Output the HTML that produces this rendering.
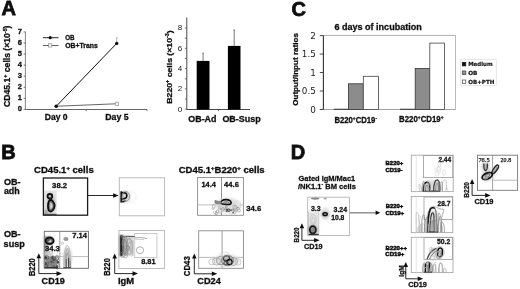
<!DOCTYPE html>
<html><head><meta charset="utf-8"><title>Figure</title>
<style>
html,body{margin:0;padding:0;background:#fff;}
body{width:520px;height:289px;overflow:hidden;}
svg{display:block;}
</style></head><body>
<svg width="520" height="289" viewBox="0 0 520 289">
<defs>
<filter id="b1" x="-20%" y="-20%" width="140%" height="140%"><feGaussianBlur stdDeviation="0.35"/></filter>
<filter id="b2" x="-30%" y="-30%" width="160%" height="160%"><feGaussianBlur stdDeviation="0.8"/></filter>
<filter id="b3" x="-40%" y="-40%" width="180%" height="180%"><feGaussianBlur stdDeviation="1.6"/></filter>
<filter id="g0" x="0" y="0" width="100%" height="100%" filterUnits="userSpaceOnUse"><feGaussianBlur stdDeviation="0.3"/></filter>
</defs>
<rect x="0" y="0" width="520" height="289" fill="#fff"/>
<g filter="url(#g0)">
<rect x="0" y="0" width="520" height="289" fill="#fff"/>
<text x="1.4" y="14.9" font-size="20" font-weight="bold" font-family='"Liberation Sans", Arial, sans-serif' text-anchor="start" fill="#111" stroke="#111" stroke-width="0.8">A</text>
<text x="291.5" y="16.3" font-size="20" font-weight="bold" font-family='"Liberation Sans", Arial, sans-serif' text-anchor="start" fill="#111" stroke="#111" stroke-width="0.8">C</text>
<text x="1.3" y="158.7" font-size="20" font-weight="bold" font-family='"Liberation Sans", Arial, sans-serif' text-anchor="start" fill="#111" stroke="#111" stroke-width="0.8">B</text>
<text x="290.8" y="158.8" font-size="20" font-weight="bold" font-family='"Liberation Sans", Arial, sans-serif' text-anchor="start" fill="#111" stroke="#111" stroke-width="0.8">D</text>
<line x1="25.4" y1="31.8" x2="25.4" y2="109.5" stroke="#666" stroke-width="0.8"/>
<line x1="25.4" y1="109.5" x2="147" y2="109.5" stroke="#555" stroke-width="0.9"/>
<line x1="23.6" y1="109.4" x2="25.4" y2="109.4" stroke="#444" stroke-width="0.7"/>
<text x="21.8" y="111.2" font-size="7.5" font-weight="bold" font-family='"Liberation Sans", Arial, sans-serif' text-anchor="end" fill="#111" stroke="#111" stroke-width="0.3">0</text>
<line x1="23.6" y1="98.33" x2="25.4" y2="98.33" stroke="#444" stroke-width="0.7"/>
<text x="21.8" y="100.13" font-size="7.5" font-weight="bold" font-family='"Liberation Sans", Arial, sans-serif' text-anchor="end" fill="#111" stroke="#111" stroke-width="0.3">1</text>
<line x1="23.6" y1="87.26" x2="25.4" y2="87.26" stroke="#444" stroke-width="0.7"/>
<text x="21.8" y="89.06" font-size="7.5" font-weight="bold" font-family='"Liberation Sans", Arial, sans-serif' text-anchor="end" fill="#111" stroke="#111" stroke-width="0.3">2</text>
<line x1="23.6" y1="76.19" x2="25.4" y2="76.19" stroke="#444" stroke-width="0.7"/>
<text x="21.8" y="77.99" font-size="7.5" font-weight="bold" font-family='"Liberation Sans", Arial, sans-serif' text-anchor="end" fill="#111" stroke="#111" stroke-width="0.3">3</text>
<line x1="23.6" y1="65.12" x2="25.4" y2="65.12" stroke="#444" stroke-width="0.7"/>
<text x="21.8" y="66.92" font-size="7.5" font-weight="bold" font-family='"Liberation Sans", Arial, sans-serif' text-anchor="end" fill="#111" stroke="#111" stroke-width="0.3">4</text>
<line x1="23.6" y1="54.05" x2="25.4" y2="54.05" stroke="#444" stroke-width="0.7"/>
<text x="21.8" y="55.85" font-size="7.5" font-weight="bold" font-family='"Liberation Sans", Arial, sans-serif' text-anchor="end" fill="#111" stroke="#111" stroke-width="0.3">5</text>
<line x1="23.6" y1="42.98" x2="25.4" y2="42.98" stroke="#444" stroke-width="0.7"/>
<text x="21.8" y="44.78" font-size="7.5" font-weight="bold" font-family='"Liberation Sans", Arial, sans-serif' text-anchor="end" fill="#111" stroke="#111" stroke-width="0.3">6</text>
<line x1="23.6" y1="31.91" x2="25.4" y2="31.91" stroke="#444" stroke-width="0.7"/>
<text x="21.8" y="33.71" font-size="7.5" font-weight="bold" font-family='"Liberation Sans", Arial, sans-serif' text-anchor="end" fill="#111" stroke="#111" stroke-width="0.3">7</text>
<line x1="86.2" y1="109.5" x2="86.2" y2="111.1" stroke="#444" stroke-width="0.7"/>
<line x1="147" y1="109.5" x2="147" y2="111.1" stroke="#444" stroke-width="0.7"/>
<line x1="56.2" y1="106.3" x2="116.7" y2="43.4" stroke="#111" stroke-width="1.0"/>
<line x1="56.2" y1="106.3" x2="117" y2="103.8" stroke="#666" stroke-width="1.1"/>
<line x1="116.7" y1="43.4" x2="116.7" y2="37.8" stroke="#999" stroke-width="0.7"/>
<line x1="115.7" y1="37.8" x2="117.7" y2="37.8" stroke="#999" stroke-width="0.6"/>
<circle cx="56.2" cy="106.2" r="1.8" fill="#111"/>
<circle cx="116.7" cy="43.4" r="1.7" fill="#111"/>
<rect x="115.4" y="102.2" width="3.2" height="3.2" stroke="#999" stroke-width="0.8" fill="#fff"/>
<line x1="42.9" y1="37.7" x2="58.5" y2="37.7" stroke="#111" stroke-width="0.9"/>
<circle cx="50.2" cy="37.7" r="1.6" fill="#111"/>
<line x1="42.9" y1="45.5" x2="58.5" y2="45.5" stroke="#555" stroke-width="0.9"/>
<rect x="48.6" y="43.8" width="3.2" height="3.2" stroke="#888" stroke-width="0.7" fill="#fff"/>
<text x="65.2" y="39.7" font-size="6.6" font-weight="bold" font-family='"Liberation Sans", Arial, sans-serif' text-anchor="start" fill="#111" textLength="9.4" lengthAdjust="spacingAndGlyphs" stroke="#111" stroke-width="0.3">OB</text>
<text x="65.3" y="47.8" font-size="6.6" font-weight="bold" font-family='"Liberation Sans", Arial, sans-serif' text-anchor="start" fill="#111" textLength="32.4" lengthAdjust="spacingAndGlyphs" stroke="#111" stroke-width="0.3">OB+Trans</text>
<text x="44.8" y="119.8" font-size="9" font-weight="bold" font-family='"Liberation Sans", Arial, sans-serif' text-anchor="start" fill="#111" textLength="22.8" lengthAdjust="spacingAndGlyphs" stroke="#111" stroke-width="0.3">Day 0</text>
<text x="105.2" y="119.8" font-size="9" font-weight="bold" font-family='"Liberation Sans", Arial, sans-serif' text-anchor="start" fill="#111" textLength="23.4" lengthAdjust="spacingAndGlyphs" stroke="#111" stroke-width="0.3">Day 5</text>
<text transform="translate(10.3,106.9) rotate(-90)" font-size="8.5" font-weight="bold" font-family='"Liberation Sans", Arial, sans-serif' fill="#111" textLength="81.4" lengthAdjust="spacingAndGlyphs" stroke="#111" stroke-width="0.3">CD45.1<tspan font-size="62%" dy="-2.89">+</tspan><tspan dy="2.89"> cells (×10</tspan><tspan font-size="62%" dy="-2.89">-5</tspan><tspan dy="2.89">)</tspan></text>
<line x1="186.8" y1="17.5" x2="186.8" y2="109.5" stroke="#333" stroke-width="0.9"/>
<line x1="186.8" y1="109.5" x2="250" y2="109.5" stroke="#333" stroke-width="0.9"/>
<line x1="184.8" y1="109.2" x2="186.8" y2="109.2" stroke="#444" stroke-width="0.7"/>
<text x="182.3" y="111.5" font-size="8.0" font-weight="normal" font-family='"Liberation Sans", Arial, sans-serif' text-anchor="end" fill="#111">0</text>
<line x1="184.8" y1="99.05" x2="186.8" y2="99.05" stroke="#444" stroke-width="0.7"/>
<line x1="184.8" y1="88.9" x2="186.8" y2="88.9" stroke="#444" stroke-width="0.7"/>
<text x="182.3" y="91.2" font-size="8.0" font-weight="normal" font-family='"Liberation Sans", Arial, sans-serif' text-anchor="end" fill="#111">2</text>
<line x1="184.8" y1="78.75" x2="186.8" y2="78.75" stroke="#444" stroke-width="0.7"/>
<line x1="184.8" y1="68.6" x2="186.8" y2="68.6" stroke="#444" stroke-width="0.7"/>
<text x="182.3" y="70.9" font-size="8.0" font-weight="normal" font-family='"Liberation Sans", Arial, sans-serif' text-anchor="end" fill="#111">4</text>
<line x1="184.8" y1="58.45" x2="186.8" y2="58.45" stroke="#444" stroke-width="0.7"/>
<line x1="184.8" y1="48.3" x2="186.8" y2="48.3" stroke="#444" stroke-width="0.7"/>
<text x="182.3" y="50.6" font-size="8.0" font-weight="normal" font-family='"Liberation Sans", Arial, sans-serif' text-anchor="end" fill="#111">6</text>
<line x1="184.8" y1="38.15" x2="186.8" y2="38.15" stroke="#444" stroke-width="0.7"/>
<line x1="184.8" y1="28.0" x2="186.8" y2="28.0" stroke="#444" stroke-width="0.7"/>
<text x="182.3" y="30.3" font-size="8.0" font-weight="normal" font-family='"Liberation Sans", Arial, sans-serif' text-anchor="end" fill="#111">8</text>
<line x1="218.4" y1="109.5" x2="218.4" y2="111.1" stroke="#444" stroke-width="0.7"/>
<line x1="203.1" y1="60.9" x2="203.1" y2="53.2" stroke="#777" stroke-width="1.0"/>
<line x1="202.3" y1="53.2" x2="203.9" y2="53.2" stroke="#666" stroke-width="0.8"/>
<line x1="234.2" y1="45.9" x2="234.2" y2="30.0" stroke="#777" stroke-width="1.0"/>
<line x1="233.4" y1="30.0" x2="235.0" y2="30.0" stroke="#666" stroke-width="0.8"/>
<rect x="196.7" y="60.9" width="12.8" height="48.6" stroke="none" stroke-width="0" fill="#000"/>
<rect x="227.9" y="45.9" width="12.6" height="63.6" stroke="none" stroke-width="0" fill="#000"/>
<text x="188.3" y="121.6" font-size="9" font-weight="bold" font-family='"Liberation Sans", Arial, sans-serif' text-anchor="start" fill="#111" textLength="28.2" lengthAdjust="spacingAndGlyphs" stroke="#111" stroke-width="0.3">OB-Ad</text>
<text x="222.4" y="121.6" font-size="9" font-weight="bold" font-family='"Liberation Sans", Arial, sans-serif' text-anchor="start" fill="#111" textLength="38.4" lengthAdjust="spacingAndGlyphs" stroke="#111" stroke-width="0.3">OB-Susp</text>
<text transform="translate(171.6,103.7) rotate(-90)" font-size="8" font-weight="bold" font-family='"Liberation Sans", Arial, sans-serif' fill="#111" textLength="73.4" lengthAdjust="spacingAndGlyphs" stroke="#111" stroke-width="0.3">B220<tspan font-size="62%" dy="-2.72">+</tspan><tspan dy="2.72"> cells  (×10</tspan><tspan font-size="62%" dy="-2.72">-3</tspan><tspan dy="2.72">)</tspan></text>
<line x1="323.4" y1="35.4" x2="455.5" y2="35.4" stroke="#999" stroke-width="0.8"/>
<line x1="455.5" y1="35.4" x2="455.5" y2="109.5" stroke="#aaa" stroke-width="0.8"/>
<line x1="319.8" y1="109.5" x2="455.5" y2="109.5" stroke="#999" stroke-width="0.9"/>
<line x1="323.4" y1="35.4" x2="323.4" y2="109.5" stroke="#333" stroke-width="1.1"/>
<line x1="319.8" y1="109.5" x2="323.4" y2="109.5" stroke="#333" stroke-width="0.9"/>
<text x="315.8" y="112.6" font-size="8.8" font-weight="normal" font-family='"DejaVu Sans", Verdana, sans-serif' text-anchor="end" fill="#222">0</text>
<line x1="319.8" y1="91.02" x2="323.4" y2="91.02" stroke="#333" stroke-width="0.9"/>
<text x="315.8" y="94.12" font-size="8.8" font-weight="normal" font-family='"DejaVu Sans", Verdana, sans-serif' text-anchor="end" fill="#222">0.5</text>
<line x1="319.8" y1="72.54" x2="323.4" y2="72.54" stroke="#333" stroke-width="0.9"/>
<text x="315.8" y="75.64" font-size="8.8" font-weight="normal" font-family='"DejaVu Sans", Verdana, sans-serif' text-anchor="end" fill="#222">1</text>
<line x1="319.8" y1="54.06" x2="323.4" y2="54.06" stroke="#333" stroke-width="0.9"/>
<text x="315.8" y="57.16" font-size="8.8" font-weight="normal" font-family='"DejaVu Sans", Verdana, sans-serif' text-anchor="end" fill="#222">1.5</text>
<line x1="319.8" y1="35.58" x2="323.4" y2="35.58" stroke="#333" stroke-width="0.9"/>
<text x="315.8" y="38.68" font-size="8.8" font-weight="normal" font-family='"DejaVu Sans", Verdana, sans-serif' text-anchor="end" fill="#222">2</text>
<text x="334.4" y="29.7" font-size="9" font-weight="bold" font-family='"Liberation Sans", Arial, sans-serif' text-anchor="start" fill="#111" textLength="87.4" lengthAdjust="spacingAndGlyphs" stroke="#111" stroke-width="0.3">6 days of incubation</text>
<rect x="333.8" y="108.8" width="14.6" height="0.8" stroke="none" stroke-width="0" fill="#111"/>
<rect x="348.4" y="83.8" width="14.9" height="25.7" stroke="#333" stroke-width="0.8" fill="#8c8c8c"/>
<rect x="363.3" y="76.3" width="15.2" height="33.2" stroke="#444" stroke-width="0.8" fill="#fff"/>
<rect x="400.0" y="108.8" width="15.2" height="0.8" stroke="none" stroke-width="0" fill="#111"/>
<rect x="415.2" y="68.5" width="14.6" height="41.0" stroke="#333" stroke-width="0.8" fill="#8c8c8c"/>
<rect x="429.8" y="43.1" width="14.6" height="66.4" stroke="#444" stroke-width="0.8" fill="#fff"/>
<text x="334.4" y="122.5" font-size="8.8" font-weight="bold" font-family='"Liberation Sans", Arial, sans-serif' text-anchor="start" fill="#111" textLength="42.6" lengthAdjust="spacingAndGlyphs" stroke="#111" stroke-width="0.3">B220<tspan font-size="62%" dy="-2.99">+</tspan><tspan dy="2.99">CD19</tspan><tspan font-size="62%" dy="-2.99">-</tspan></text>
<text x="399.1" y="122.2" font-size="8.8" font-weight="bold" font-family='"Liberation Sans", Arial, sans-serif' text-anchor="start" fill="#111" textLength="44.4" lengthAdjust="spacingAndGlyphs" stroke="#111" stroke-width="0.3">B220<tspan font-size="62%" dy="-2.99">+</tspan><tspan dy="2.99">CD19</tspan><tspan font-size="62%" dy="-2.99">+</tspan></text>
<text transform="translate(297.6,105.8) rotate(-90)" font-size="8" font-weight="bold" font-family='"Liberation Sans", Arial, sans-serif' fill="#111" textLength="72.7" lengthAdjust="spacingAndGlyphs" stroke="#111" stroke-width="0.3">Output/input ratios</text>
<rect x="460.5" y="59.4" width="35.7" height="25.9" stroke="#d8d8d8" stroke-width="0.6" fill="#fff"/>
<rect x="462.3" y="62.4" width="3.5" height="3.5" stroke="#111" stroke-width="0.7" fill="#111"/>
<rect x="462.3" y="71.0" width="3.5" height="3.5" stroke="#333" stroke-width="0.7" fill="#aaa"/>
<line x1="463.2" y1="71.0" x2="463.2" y2="74.5" stroke="#666" stroke-width="0.4"/>
<line x1="464.9" y1="71.0" x2="464.9" y2="74.5" stroke="#666" stroke-width="0.4"/>
<rect x="462.3" y="80.0" width="3.5" height="3.5" stroke="#444" stroke-width="0.7" fill="#fff"/>
<text x="468.2" y="66.1" font-size="5.6" font-weight="bold" font-family='"DejaVu Sans", Verdana, sans-serif' text-anchor="start" fill="#111" textLength="24.4" lengthAdjust="spacingAndGlyphs" stroke="#111" stroke-width="0.2">Medium</text>
<text x="468.2" y="74.7" font-size="5.6" font-weight="bold" font-family='"DejaVu Sans", Verdana, sans-serif' text-anchor="start" fill="#111" textLength="9.3" lengthAdjust="spacingAndGlyphs" stroke="#111" stroke-width="0.2">OB</text>
<text x="468.2" y="83.8" font-size="5.6" font-weight="bold" font-family='"DejaVu Sans", Verdana, sans-serif' text-anchor="start" fill="#111" textLength="26.2" lengthAdjust="spacingAndGlyphs" stroke="#111" stroke-width="0.2">OB+PTH</text>
<text x="34.1" y="173.1" font-size="8.5" font-weight="bold" font-family='"Liberation Sans", Arial, sans-serif' text-anchor="start" fill="#111" textLength="59.6" lengthAdjust="spacingAndGlyphs" stroke="#111" stroke-width="0.3">CD45.1<tspan font-size="62%" dy="-2.89">+</tspan><tspan dy="2.89"> cells</tspan></text>
<text x="178.7" y="173.0" font-size="8.5" font-weight="bold" font-family='"Liberation Sans", Arial, sans-serif' text-anchor="start" fill="#111" textLength="86.0" lengthAdjust="spacingAndGlyphs" stroke="#111" stroke-width="0.3">CD45.1<tspan font-size="62%" dy="-2.89">+</tspan><tspan dy="2.89">B220</tspan><tspan font-size="62%" dy="-2.89">+</tspan><tspan dy="2.89"> cells</tspan></text>
<text x="3.9" y="184.5" font-size="8.5" font-weight="bold" font-family='"Liberation Sans", Arial, sans-serif' text-anchor="start" fill="#111" textLength="16.6" lengthAdjust="spacingAndGlyphs" stroke="#111" stroke-width="0.3">OB-</text>
<text x="3.9" y="193.9" font-size="8.5" font-weight="bold" font-family='"Liberation Sans", Arial, sans-serif' text-anchor="start" fill="#111" textLength="15.8" lengthAdjust="spacingAndGlyphs" stroke="#111" stroke-width="0.3">adh</text>
<text x="3.9" y="236.9" font-size="8.5" font-weight="bold" font-family='"Liberation Sans", Arial, sans-serif' text-anchor="start" fill="#111" textLength="16.6" lengthAdjust="spacingAndGlyphs" stroke="#111" stroke-width="0.3">OB-</text>
<text x="3.6" y="246.7" font-size="8.5" font-weight="bold" font-family='"Liberation Sans", Arial, sans-serif' text-anchor="start" fill="#111" textLength="21.2" lengthAdjust="spacingAndGlyphs" stroke="#111" stroke-width="0.3">susp</text>
<rect x="44.0" y="190.4" width="12.6" height="24.6" stroke="none" stroke-width="0" fill="#e6e6e6"/>
<g filter="url(#b2)">
<ellipse cx="51" cy="204" rx="4.8" ry="9.5" stroke="none" stroke-width="0" fill="#c8c8c8"/>
<ellipse cx="50" cy="196.3" rx="3.4" ry="3.2" stroke="none" stroke-width="0" fill="#bbb"/>
<ellipse cx="46" cy="212" rx="2" ry="2.5" stroke="none" stroke-width="0" fill="#999"/>
</g>
<rect x="43.4" y="178.0" width="44.2" height="37.2" stroke="#1a1a1a" stroke-width="1.3" fill="none"/>
<text x="52.1" y="187.7" font-size="7.6" font-weight="bold" font-family='"Liberation Sans", Arial, sans-serif' text-anchor="start" fill="#111" textLength="15.0" lengthAdjust="spacingAndGlyphs" stroke="#111" stroke-width="0.3">38.2</text>
<g filter="url(#b1)">
<ellipse cx="49.9" cy="196.2" rx="2.3" ry="2.2" stroke="#111" stroke-width="1.8" fill="none"/>
<path d="M50.2,199.4 C48.2,201.2 47.8,205.5 48.2,208.8 C48.7,211.8 51,212.4 52.7,210.3 C54.8,207.6 55.2,204.6 53.5,202.2 C52.7,201 51.5,199.8 50.2,199.4 Z" stroke="#111" stroke-width="1.8" fill="#777"/>
<path d="M50.6,202.6 C49.9,204.8 50.0,207.6 50.7,208.8 C51.6,208.9 52.5,207.2 52.3,205.3 C52.0,203.8 51.3,202.9 50.6,202.6 Z" stroke="#bbb" stroke-width="0.6" fill="#ddd"/>
<line x1="50.0" y1="198.0" x2="50.3" y2="199.8" stroke="#222" stroke-width="1.3"/>
<line x1="43.9" y1="214.3" x2="56.5" y2="214.3" stroke="#333" stroke-width="1.0"/>
</g>
<line x1="87.6" y1="195.5" x2="114.6" y2="195.5" stroke="#111" stroke-width="0.9"/>
<polygon points="113.1,193.2 118.6,195.5 113.1,197.8" fill="#111"/>
<rect x="119.3" y="177.8" width="45.3" height="38.0" stroke="#b4b4b4" stroke-width="0.9" fill="none"/>
<g filter="url(#b2)">
<ellipse cx="125.5" cy="196.8" rx="5.0" ry="6.0" stroke="none" stroke-width="0" fill="#cfcfcf"/>
<ellipse cx="131.5" cy="197" rx="4.5" ry="5.5" stroke="#e8e8e8" stroke-width="1.0" fill="none"/>
</g>
<g filter="url(#b1)">
<line x1="121.3" y1="191.3" x2="121.3" y2="202.5" stroke="#111" stroke-width="1.9"/>
<path d="M121.2,193.0 C124.5,192.0 127.2,193.2 126.9,195.9 C126.6,198.6 123.6,199.3 121.4,198.8" stroke="#111" stroke-width="1.6" fill="none"/>
<path d="M121.5,201.3 C123,202.0 124.6,201.6 125.4,200.4" stroke="#222" stroke-width="1.3" fill="none"/>
<ellipse cx="125.8" cy="196.4" rx="3.8" ry="4.8" stroke="#888" stroke-width="0.8" fill="none"/>
</g>
<rect x="197.6" y="177.5" width="45.8" height="37.8" stroke="#8a8a8a" stroke-width="0.9" fill="none"/>
<line x1="221.5" y1="177.5" x2="221.5" y2="215.3" stroke="#777" stroke-width="0.8"/>
<line x1="197.6" y1="204.9" x2="243.4" y2="204.9" stroke="#aaa" stroke-width="0.8"/>
<text x="201.5" y="187.4" font-size="7.6" font-weight="bold" font-family='"Liberation Sans", Arial, sans-serif' text-anchor="start" fill="#111" textLength="14.4" lengthAdjust="spacingAndGlyphs" stroke="#111" stroke-width="0.3">14.4</text>
<text x="224.0" y="187.4" font-size="7.6" font-weight="bold" font-family='"Liberation Sans", Arial, sans-serif' text-anchor="start" fill="#111" textLength="14.9" lengthAdjust="spacingAndGlyphs" stroke="#111" stroke-width="0.3">44.6</text>
<text x="246.2" y="211.2" font-size="7.6" font-weight="bold" font-family='"Liberation Sans", Arial, sans-serif' text-anchor="start" fill="#111" textLength="15.0" lengthAdjust="spacingAndGlyphs" stroke="#111" stroke-width="0.3">34.6</text>
<g filter="url(#b3)">
<ellipse cx="228" cy="205.5" rx="12.5" ry="7.5" stroke="none" stroke-width="0" fill="#e0e0e0"/>
<ellipse cx="226" cy="203.5" rx="7" ry="4" stroke="none" stroke-width="0" fill="#cfcfcf"/>
</g>
<g filter="url(#b1)">
<ellipse cx="217.45" cy="211.36" rx="1.23" ry="1.4" stroke="#818181" stroke-width="0.6" fill="none"/>
<ellipse cx="234.4" cy="212.37" rx="1.11" ry="1.44" stroke="#838383" stroke-width="0.6" fill="none"/>
<ellipse cx="213.09" cy="208.65" rx="1.19" ry="0.87" stroke="#b5b5b5" stroke-width="0.6" fill="none"/>
<ellipse cx="219.27" cy="207.48" rx="0.64" ry="2.08" stroke="#b0b0b0" stroke-width="0.6" fill="none"/>
<ellipse cx="236.63" cy="210.74" rx="0.63" ry="1.21" stroke="#9a9a9a" stroke-width="0.6" fill="none"/>
<ellipse cx="216.13" cy="213.59" rx="0.97" ry="0.98" stroke="#b7b7b7" stroke-width="0.6" fill="none"/>
<ellipse cx="216.37" cy="213.39" rx="1.05" ry="1.5" stroke="#8c8c8c" stroke-width="0.6" fill="none"/>
<ellipse cx="226.09" cy="207.09" rx="0.64" ry="1.91" stroke="#838383" stroke-width="0.6" fill="none"/>
<ellipse cx="234.07" cy="207.27" rx="1.57" ry="1.94" stroke="#b1b1b1" stroke-width="0.6" fill="none"/>
<ellipse cx="233.6" cy="210.44" rx="1.33" ry="0.94" stroke="#989898" stroke-width="0.6" fill="none"/>
<ellipse cx="235.33" cy="207.21" rx="1.52" ry="1.93" stroke="#929292" stroke-width="0.6" fill="none"/>
<ellipse cx="222.86" cy="209.34" rx="0.99" ry="2.07" stroke="#909090" stroke-width="0.6" fill="none"/>
<ellipse cx="213.72" cy="206.29" rx="1.32" ry="2.07" stroke="#9a9a9a" stroke-width="0.6" fill="none"/>
<ellipse cx="226.27" cy="210.18" rx="1.35" ry="1.07" stroke="#a4a4a4" stroke-width="0.6" fill="none"/>
<ellipse cx="228.03" cy="210.79" rx="0.78" ry="1.0" stroke="#8d8d8d" stroke-width="0.6" fill="none"/>
<ellipse cx="238.03" cy="208.45" rx="1.2" ry="1.18" stroke="#777777" stroke-width="0.6" fill="none"/>
<ellipse cx="214.77" cy="212.42" rx="1.38" ry="1.27" stroke="#ababab" stroke-width="0.6" fill="none"/>
<ellipse cx="231.25" cy="213.14" rx="1.56" ry="1.31" stroke="#c7c7c7" stroke-width="0.6" fill="none"/>
<ellipse cx="238.96" cy="210.52" rx="1.48" ry="1.42" stroke="#8f8f8f" stroke-width="0.6" fill="none"/>
<ellipse cx="219.67" cy="212.95" rx="0.76" ry="0.87" stroke="#b6b6b6" stroke-width="0.6" fill="none"/>
<ellipse cx="233.9" cy="209.61" rx="1.44" ry="0.85" stroke="#858585" stroke-width="0.6" fill="none"/>
<ellipse cx="220.83" cy="209.07" rx="0.77" ry="0.87" stroke="#8c8c8c" stroke-width="0.6" fill="none"/>
<ellipse cx="233.1" cy="212.64" rx="0.85" ry="0.57" stroke="none" stroke-width="0" fill="#595959"/>
<ellipse cx="227.08" cy="209.71" rx="0.47" ry="0.64" stroke="none" stroke-width="0" fill="#525252"/>
<ellipse cx="224.65" cy="209.19" rx="0.41" ry="0.58" stroke="none" stroke-width="0" fill="#5f5f5f"/>
<ellipse cx="227.05" cy="209.59" rx="0.77" ry="0.75" stroke="none" stroke-width="0" fill="#3e3e3e"/>
<ellipse cx="231.4" cy="210.12" rx="0.73" ry="0.92" stroke="none" stroke-width="0" fill="#6c6c6c"/>
<ellipse cx="226.35" cy="211.32" rx="0.58" ry="0.89" stroke="none" stroke-width="0" fill="#5d5d5d"/>
</g>
<g filter="url(#b1)">
<path d="M220.8,203.2 C220.6,201.2 222.5,199.6 226,199.6 C229.5,199.6 231.3,201.2 231.1,203 C230.8,204.4 228,204.6 225.5,204.3 C223.2,204.1 221,204.2 220.8,203.2 Z" stroke="#111" stroke-width="1.6" fill="none"/>
<path d="M214.8,201.4 C216.5,201 218.5,202.4 220.8,203.4" stroke="#1a1a1a" stroke-width="1.6" fill="none"/>
<path d="M223.5,202.4 C225,201.6 227.5,201.8 229,202.6" stroke="#555" stroke-width="0.9" fill="none"/>
<ellipse cx="218" cy="202.6" rx="3.5" ry="1.8" stroke="none" stroke-width="0" fill="#888"/>
<ellipse cx="228.6" cy="210.2" rx="1.8" ry="1.1" stroke="#333" stroke-width="1.0" fill="none"/>
<ellipse cx="237" cy="205.5" rx="4" ry="4.5" stroke="#ccc" stroke-width="0.7" fill="none"/>
</g>
<rect x="44.3" y="231.3" width="44.1" height="37.0" stroke="#666" stroke-width="0.9" fill="none"/>
<line x1="59.8" y1="231.3" x2="59.8" y2="268.3" stroke="#888" stroke-width="0.8"/>
<line x1="44.3" y1="256.6" x2="88.4" y2="256.6" stroke="#aaa" stroke-width="0.8"/>
<g filter="url(#b2)">
<rect x="44.5" y="236" width="2.5" height="32" stroke="none" stroke-width="0" fill="#777"/>
<ellipse cx="51" cy="262" rx="6.5" ry="6" stroke="none" stroke-width="0" fill="#888"/>
<ellipse cx="67.5" cy="257" rx="4.5" ry="10" stroke="none" stroke-width="0" fill="#d6d6d6"/>
<ellipse cx="49" cy="253.5" rx="4" ry="2" stroke="none" stroke-width="0" fill="#ddd"/>
<ellipse cx="49.6" cy="240.8" rx="4.2" ry="3.6" stroke="none" stroke-width="0" fill="#555"/>
</g>
<g filter="url(#b1)">
<ellipse cx="49.6" cy="240.8" rx="4.0" ry="3.3" stroke="#111" stroke-width="1.8" fill="none"/>
<path d="M48.4,241.8 L51.0,239.8 L51.2,242.0 Z" stroke="#ccc" stroke-width="0.5" fill="#ddd"/>
<ellipse cx="65.9" cy="238.9" rx="2.6" ry="2.0" stroke="none" stroke-width="0" fill="#999"/>
<path d="M63.6,268 C63.6,258 64.5,247 67.2,245.2 C70,247 70.8,258 71,268" stroke="#aaa" stroke-width="0.7" fill="none"/>
<path d="M64.8,268 C64.8,260 65.5,250 67.3,248.4 C69,250 69.6,260 69.8,268" stroke="#999" stroke-width="0.7" fill="none"/>
<path d="M65.8,268 C65.9,262 66.3,254 67.3,252.8 C68.3,254 68.6,262 68.7,268" stroke="#888" stroke-width="0.8" fill="none"/>
<line x1="66.2" y1="259" x2="66.3" y2="267.5" stroke="#555" stroke-width="1.0"/>
<line x1="68.6" y1="258" x2="68.6" y2="267.5" stroke="#444" stroke-width="1.1"/>
<line x1="70.4" y1="261" x2="70.4" y2="267.5" stroke="#888" stroke-width="0.8"/>
<line x1="63.5" y1="267.6" x2="71" y2="267.6" stroke="#444" stroke-width="1.0"/>
</g>
<g filter="url(#b1)">
<ellipse cx="48.09" cy="262.94" rx="0.93" ry="1.49" stroke="none" stroke-width="0" fill="#656565"/>
<ellipse cx="45.85" cy="257.63" rx="1.35" ry="1.08" stroke="none" stroke-width="0" fill="#323232"/>
<ellipse cx="57.94" cy="262.2" rx="1.35" ry="1.34" stroke="none" stroke-width="0" fill="#676767"/>
<ellipse cx="46.96" cy="263.85" rx="1.38" ry="1.39" stroke="none" stroke-width="0" fill="#747474"/>
<ellipse cx="53.73" cy="258.14" rx="1.28" ry="1.47" stroke="none" stroke-width="0" fill="#3b3b3b"/>
<ellipse cx="45.4" cy="266.16" rx="1.03" ry="1.62" stroke="none" stroke-width="0" fill="#868686"/>
<ellipse cx="54.28" cy="266.71" rx="0.96" ry="1.72" stroke="none" stroke-width="0" fill="#4d4d4d"/>
<ellipse cx="57.16" cy="266.29" rx="0.69" ry="0.94" stroke="none" stroke-width="0" fill="#303030"/>
<ellipse cx="57.55" cy="261.86" rx="1.16" ry="1.13" stroke="none" stroke-width="0" fill="#555555"/>
<ellipse cx="50.02" cy="261.01" rx="1.13" ry="1.46" stroke="none" stroke-width="0" fill="#898989"/>
<ellipse cx="53.87" cy="266.79" rx="1.37" ry="1.94" stroke="none" stroke-width="0" fill="#6b6b6b"/>
<ellipse cx="47.12" cy="266.11" rx="1.47" ry="1.84" stroke="none" stroke-width="0" fill="#5d5d5d"/>
<ellipse cx="54.28" cy="259.61" rx="1.35" ry="1.45" stroke="none" stroke-width="0" fill="#393939"/>
<ellipse cx="45.82" cy="266.04" rx="1.49" ry="0.88" stroke="none" stroke-width="0" fill="#7c7c7c"/>
<ellipse cx="50.34" cy="259.01" rx="0.86" ry="1.68" stroke="none" stroke-width="0" fill="#858585"/>
<ellipse cx="45.57" cy="263.65" rx="0.64" ry="1.62" stroke="none" stroke-width="0" fill="#3f3f3f"/>
<ellipse cx="56.45" cy="267.31" rx="1.05" ry="1.95" stroke="none" stroke-width="0" fill="#3c3c3c"/>
<ellipse cx="46.0" cy="263.5" rx="0.63" ry="1.01" stroke="none" stroke-width="0" fill="#494949"/>
<ellipse cx="52.94" cy="259.06" rx="0.64" ry="1.8" stroke="none" stroke-width="0" fill="#3c3c3c"/>
<ellipse cx="57.46" cy="266.47" rx="0.94" ry="1.32" stroke="none" stroke-width="0" fill="#575757"/>
<ellipse cx="53.37" cy="263.46" rx="1.1" ry="1.51" stroke="none" stroke-width="0" fill="#8e8e8e"/>
<ellipse cx="51.59" cy="261.81" rx="1.25" ry="1.06" stroke="none" stroke-width="0" fill="#3b3b3b"/>
<ellipse cx="57.71" cy="262.71" rx="1.09" ry="0.79" stroke="none" stroke-width="0" fill="#494949"/>
<ellipse cx="52.54" cy="257.7" rx="1.15" ry="1.52" stroke="none" stroke-width="0" fill="#1b1b1b"/>
<ellipse cx="53.16" cy="262.16" rx="1.21" ry="1.19" stroke="none" stroke-width="0" fill="#6f6f6f"/>
<ellipse cx="54.59" cy="257.72" rx="0.65" ry="1.57" stroke="none" stroke-width="0" fill="#919191"/>
<ellipse cx="53.1" cy="264.92" rx="2.0" ry="2.79" stroke="#686868" stroke-width="0.6" fill="none"/>
<ellipse cx="56.99" cy="257.79" rx="1.67" ry="2.79" stroke="#626262" stroke-width="0.6" fill="none"/>
<ellipse cx="56.71" cy="258.63" rx="1.67" ry="1.88" stroke="#5c5c5c" stroke-width="0.6" fill="none"/>
<ellipse cx="52.46" cy="257.63" rx="1.42" ry="1.92" stroke="#727272" stroke-width="0.6" fill="none"/>
<ellipse cx="54.95" cy="259.1" rx="2.0" ry="1.74" stroke="#616161" stroke-width="0.6" fill="none"/>
<ellipse cx="46.65" cy="257.52" rx="2.07" ry="1.83" stroke="#484848" stroke-width="0.6" fill="none"/>
<ellipse cx="57.77" cy="266.22" rx="1.49" ry="2.81" stroke="#5c5c5c" stroke-width="0.6" fill="none"/>
<ellipse cx="53.81" cy="259.55" rx="2.14" ry="2.46" stroke="#757575" stroke-width="0.6" fill="none"/>
<ellipse cx="49.21" cy="252.18" rx="0.83" ry="0.7" stroke="none" stroke-width="0" fill="#c2c2c2"/>
<ellipse cx="49.75" cy="251.76" rx="0.75" ry="0.67" stroke="none" stroke-width="0" fill="#bdbdbd"/>
<ellipse cx="45.91" cy="251.91" rx="0.71" ry="1.19" stroke="none" stroke-width="0" fill="#afafaf"/>
<ellipse cx="47.9" cy="254.32" rx="0.97" ry="1.03" stroke="none" stroke-width="0" fill="#bbbbbb"/>
<ellipse cx="57.69" cy="251.71" rx="0.93" ry="0.84" stroke="none" stroke-width="0" fill="#b0b0b0"/>
<ellipse cx="46.53" cy="252.89" rx="0.91" ry="0.77" stroke="none" stroke-width="0" fill="#c4c4c4"/>
</g>
<g filter="url(#b1)">
<ellipse cx="50" cy="253" rx="3" ry="1.5" stroke="#bbb" stroke-width="0.6" fill="none"/>
<line x1="44.6" y1="267.5" x2="58" y2="267.5" stroke="#333" stroke-width="1.1"/>
<rect x="61.4" y="242.2" width="2.0" height="2.0" stroke="#bbb" stroke-width="0.6" fill="none"/>
</g>
<text x="72.2" y="238.4" font-size="7.6" font-weight="bold" font-family='"Liberation Sans", Arial, sans-serif' text-anchor="start" fill="#111" textLength="14.8" lengthAdjust="spacingAndGlyphs" stroke="#111" stroke-width="0.3">7.14</text>
<text x="44.9" y="250.6" font-size="7.6" font-weight="bold" font-family='"Liberation Sans", Arial, sans-serif' text-anchor="start" fill="#111" textLength="15.0" lengthAdjust="spacingAndGlyphs" stroke="#111" stroke-width="0.3">34.3</text>
<rect x="118.9" y="230.6" width="45.7" height="37.9" stroke="#b4b4b4" stroke-width="0.9" fill="none"/>
<rect x="134.7" y="233.5" width="22.2" height="23.9" stroke="#bdbdbd" stroke-width="0.8" fill="none"/>
<g filter="url(#b2)">
<rect x="122" y="236" width="12" height="20" stroke="none" stroke-width="0" fill="#dcdcdc"/>
<rect x="119.8" y="235" width="3.7" height="21" stroke="none" stroke-width="0" fill="#555"/>
</g>
<g filter="url(#b1)">
<rect x="120.2" y="235.4" width="2.2" height="20.4" stroke="none" stroke-width="0" fill="#222"/>
<path d="M120.5,236.6 C127,236.2 131,236.4 134.7,236.6" stroke="#666" stroke-width="1.1" fill="none"/>
<path d="M135,237.8 C139,237.4 143,237.6 147,238.6" stroke="#999" stroke-width="0.8" fill="none"/>
<path d="M135,239.2 C138,239.4 141,239.3 144,239.6" stroke="#bbb" stroke-width="0.7" fill="none"/>
<ellipse cx="140.0" cy="250.2" rx="3.6" ry="3.4" stroke="#999" stroke-width="0.8" fill="none"/>
<ellipse cx="125.5" cy="246" rx="2.5" ry="9.5" stroke="#888" stroke-width="0.8" fill="none"/>
<ellipse cx="129.5" cy="246.5" rx="2.5" ry="8.5" stroke="#999" stroke-width="0.8" fill="none"/>
<ellipse cx="125" cy="247" rx="1.3" ry="7.5" stroke="#555" stroke-width="0.8" fill="none"/>
<ellipse cx="131.5" cy="247" rx="1.2" ry="6.5" stroke="#aaa" stroke-width="0.7" fill="none"/>
<line x1="132.8" y1="240" x2="132.8" y2="256" stroke="#aaa" stroke-width="0.7"/>
</g>
<g filter="url(#b1)">
<ellipse cx="126.98" cy="247.52" rx="2.46" ry="2.13" stroke="#828282" stroke-width="0.6" fill="none"/>
<ellipse cx="128.46" cy="241.14" rx="1.72" ry="2.51" stroke="#999999" stroke-width="0.6" fill="none"/>
<ellipse cx="123.04" cy="243.16" rx="0.96" ry="2.93" stroke="#919191" stroke-width="0.6" fill="none"/>
<ellipse cx="122.46" cy="254.7" rx="2.54" ry="2.57" stroke="#8b8b8b" stroke-width="0.6" fill="none"/>
<ellipse cx="123.73" cy="238.26" rx="1.75" ry="1.18" stroke="#696969" stroke-width="0.6" fill="none"/>
<ellipse cx="124.66" cy="238.51" rx="1.64" ry="2.07" stroke="#9d9d9d" stroke-width="0.6" fill="none"/>
<ellipse cx="127.71" cy="248.88" rx="1.7" ry="2.59" stroke="#7e7e7e" stroke-width="0.6" fill="none"/>
<ellipse cx="125.06" cy="254.96" rx="2.59" ry="3.01" stroke="#929292" stroke-width="0.6" fill="none"/>
<ellipse cx="125.47" cy="241.9" rx="1.32" ry="1.2" stroke="#979797" stroke-width="0.6" fill="none"/>
<ellipse cx="126.4" cy="252.39" rx="1.5" ry="3.28" stroke="#9d9d9d" stroke-width="0.6" fill="none"/>
</g>
<text x="141.2" y="264.2" font-size="7.6" font-weight="bold" font-family='"Liberation Sans", Arial, sans-serif' text-anchor="start" fill="#111" textLength="14.4" lengthAdjust="spacingAndGlyphs" stroke="#111" stroke-width="0.3">8.81</text>
<rect x="198.7" y="230.8" width="44.8" height="37.5" stroke="#8a8a8a" stroke-width="0.9" fill="none"/>
<line x1="222.1" y1="230.8" x2="222.1" y2="268.3" stroke="#888" stroke-width="0.8"/>
<line x1="198.7" y1="257.4" x2="243.5" y2="257.4" stroke="#aaa" stroke-width="0.8"/>
<g filter="url(#b3)">
<ellipse cx="226.5" cy="260.5" rx="13" ry="6.0" stroke="none" stroke-width="0" fill="#dedede"/>
<ellipse cx="227.5" cy="260.5" rx="6.5" ry="4.5" stroke="none" stroke-width="0" fill="#bcbcbc"/>
</g>
<g filter="url(#b1)">
<ellipse cx="211.8" cy="261.8" rx="3.0" ry="3.0" stroke="#bbb" stroke-width="0.8" fill="none"/>
<ellipse cx="216.5" cy="261.5" rx="4.0" ry="3.6" stroke="#aaa" stroke-width="0.8" fill="none"/>
<ellipse cx="221.0" cy="260.5" rx="4.5" ry="4.2" stroke="#888" stroke-width="0.8" fill="none"/>
<ellipse cx="233.5" cy="261.5" rx="4.0" ry="4.0" stroke="#999" stroke-width="0.8" fill="none"/>
<ellipse cx="238.0" cy="262.0" rx="3.0" ry="3.2" stroke="#bbb" stroke-width="0.7" fill="none"/>
<ellipse cx="226.5" cy="258.5" rx="3.2" ry="2.4" stroke="#333" stroke-width="1.1" fill="none"/>
<ellipse cx="229.5" cy="262.0" rx="2.6" ry="2.6" stroke="#111" stroke-width="1.3" fill="none"/>
<ellipse cx="226.0" cy="263.0" rx="2.2" ry="1.8" stroke="#444" stroke-width="0.9" fill="none"/>
<ellipse cx="227.5" cy="260.5" rx="6.0" ry="5.2" stroke="#666" stroke-width="0.8" fill="none"/>
<ellipse cx="224.5" cy="254.5" rx="4.5" ry="2.5" stroke="#ccc" stroke-width="0.6" fill="none"/>
</g>
<line x1="38.8" y1="273.6" x2="38.8" y2="257.3" stroke="#111" stroke-width="0.9"/>
<polygon points="36.5,258.3 38.8,253.3 41.099999999999994,258.3" fill="#111"/>
<line x1="38.8" y1="273.6" x2="58.0" y2="273.6" stroke="#111" stroke-width="0.9"/>
<polygon points="56.5,271.3 62.0,273.6 56.5,275.90000000000003" fill="#111"/>
<line x1="114.7" y1="273.6" x2="114.7" y2="257.5" stroke="#111" stroke-width="0.9"/>
<polygon points="112.4,258.5 114.7,253.5 117.0,258.5" fill="#111"/>
<line x1="114.7" y1="273.6" x2="134.0" y2="273.6" stroke="#111" stroke-width="0.9"/>
<polygon points="132.5,271.3 138.0,273.6 132.5,275.90000000000003" fill="#111"/>
<line x1="194.3" y1="273.8" x2="194.3" y2="257.6" stroke="#111" stroke-width="0.9"/>
<polygon points="192.0,258.6 194.3,253.6 196.60000000000002,258.6" fill="#111"/>
<line x1="194.3" y1="273.8" x2="213.3" y2="273.8" stroke="#111" stroke-width="0.9"/>
<polygon points="211.8,271.5 217.3,273.8 211.8,276.1" fill="#111"/>
<text transform="translate(34.7,276.1) rotate(-90)" font-size="8.6" font-weight="bold" font-family='"Liberation Sans", Arial, sans-serif' fill="#111" textLength="17.8" lengthAdjust="spacingAndGlyphs" stroke="#111" stroke-width="0.3">B220</text>
<text x="41.6" y="283.8" font-size="8.7" font-weight="bold" font-family='"Liberation Sans", Arial, sans-serif' text-anchor="start" fill="#111" textLength="23.2" lengthAdjust="spacingAndGlyphs" stroke="#111" stroke-width="0.3">CD19</text>
<text transform="translate(110.3,275.8) rotate(-90)" font-size="8.5" font-weight="bold" font-family='"Liberation Sans", Arial, sans-serif' fill="#111" textLength="17.6" lengthAdjust="spacingAndGlyphs" stroke="#111" stroke-width="0.3">B220</text>
<text x="118.0" y="284.4" font-size="8.7" font-weight="bold" font-family='"Liberation Sans", Arial, sans-serif' text-anchor="start" fill="#111" textLength="16.2" lengthAdjust="spacingAndGlyphs" stroke="#111" stroke-width="0.3">IgM</text>
<text transform="translate(190.4,276.2) rotate(-90)" font-size="8.5" font-weight="bold" font-family='"Liberation Sans", Arial, sans-serif' fill="#111" textLength="20.0" lengthAdjust="spacingAndGlyphs" stroke="#111" stroke-width="0.3">CD43</text>
<text x="197.3" y="284.2" font-size="8.7" font-weight="bold" font-family='"Liberation Sans", Arial, sans-serif' text-anchor="start" fill="#111" textLength="23.5" lengthAdjust="spacingAndGlyphs" stroke="#111" stroke-width="0.3">CD24</text>
<text x="298.5" y="180.5" font-size="7.8" font-weight="bold" font-family='"Liberation Sans", Arial, sans-serif' text-anchor="start" fill="#111" textLength="56.7" lengthAdjust="spacingAndGlyphs" stroke="#111" stroke-width="0.3">Gated IgM/Mac1</text>
<text x="298.0" y="188.5" font-size="7.8" font-weight="bold" font-family='"Liberation Sans", Arial, sans-serif' text-anchor="start" fill="#111" textLength="57.9" lengthAdjust="spacingAndGlyphs" stroke="#111" stroke-width="0.3">/NK1.1<tspan font-size="62%" dy="-2.65">-</tspan><tspan dy="2.65"> BM cells</tspan></text>
<rect x="307.7" y="197.2" width="41.8" height="38.2" stroke="#b4b4b4" stroke-width="0.9" fill="none"/>
<g filter="url(#b2)">
<rect x="308.3" y="211.5" width="10.5" height="23.7" stroke="none" stroke-width="0" fill="#e4e4e4"/>
<ellipse cx="325.3" cy="213.8" rx="4.8" ry="6.5" stroke="none" stroke-width="0" fill="#e4e4e4"/>
<ellipse cx="312.8" cy="229.6" rx="5.0" ry="5.2" stroke="none" stroke-width="0" fill="#999"/>
<ellipse cx="325.1" cy="214.2" rx="3.6" ry="2.8" stroke="none" stroke-width="0" fill="#aaa"/>
</g>
<g filter="url(#b1)">
<line x1="308.4" y1="211.5" x2="308.4" y2="235" stroke="#aaa" stroke-width="0.6"/>
<line x1="318.6" y1="211.5" x2="318.6" y2="235" stroke="#bbb" stroke-width="0.6"/>
<ellipse cx="315.2" cy="198.6" rx="4.2" ry="1.1" stroke="none" stroke-width="0" fill="#888"/>
<ellipse cx="325.2" cy="198.6" rx="1.8" ry="0.9" stroke="none" stroke-width="0" fill="#aaa"/>
<ellipse cx="325.1" cy="214.2" rx="2.1" ry="1.4" stroke="#111" stroke-width="1.5" fill="none"/>
<ellipse cx="312.8" cy="229.8" rx="3.0" ry="3.6" stroke="#1a1a1a" stroke-width="1.8" fill="none"/>
<ellipse cx="312.8" cy="229.8" rx="1.0" ry="1.5" stroke="#777" stroke-width="0.8" fill="none"/>
<ellipse cx="313.2" cy="219.5" rx="3.2" ry="5.0" stroke="#bbb" stroke-width="0.7" fill="none"/>
<ellipse cx="313.2" cy="220.5" rx="1.6" ry="3.2" stroke="#bbb" stroke-width="0.6" fill="none"/>
<line x1="310.5" y1="213" x2="316.5" y2="224" stroke="#ccc" stroke-width="0.5"/>
<line x1="308.6" y1="234.5" x2="318.6" y2="234.5" stroke="#333" stroke-width="1.3"/>
</g>
<text x="310.9" y="210.7" font-size="7.6" font-weight="bold" font-family='"Liberation Sans", Arial, sans-serif' text-anchor="start" fill="#111" textLength="9.7" lengthAdjust="spacingAndGlyphs" stroke="#111" stroke-width="0.3">3.3</text>
<text x="333.5" y="212.4" font-size="7.6" font-weight="bold" font-family='"Liberation Sans", Arial, sans-serif' text-anchor="start" fill="#111" textLength="13.6" lengthAdjust="spacingAndGlyphs" stroke="#111" stroke-width="0.3">3.24</text>
<text x="331.2" y="220.2" font-size="7.6" font-weight="bold" font-family='"Liberation Sans", Arial, sans-serif' text-anchor="start" fill="#111" textLength="13.2" lengthAdjust="spacingAndGlyphs" stroke="#111" stroke-width="0.3">10.8</text>
<line x1="349.5" y1="212.8" x2="376.4" y2="212.8" stroke="#888" stroke-width="1.4"/>
<polygon points="375.6,210.6 380.3,212.8 375.6,215.0" fill="#111"/>
<line x1="301.9" y1="240.3" x2="301.9" y2="227.3" stroke="#111" stroke-width="0.9"/>
<polygon points="299.59999999999997,228.3 301.9,223.3 304.2,228.3" fill="#111"/>
<line x1="301.9" y1="240.3" x2="315.6" y2="240.3" stroke="#111" stroke-width="0.9"/>
<polygon points="314.1,238.0 319.6,240.3 314.1,242.60000000000002" fill="#111"/>
<text transform="translate(298.8,242.4) rotate(-90)" font-size="7.8" font-weight="bold" font-family='"Liberation Sans", Arial, sans-serif' fill="#111" textLength="15.0" lengthAdjust="spacingAndGlyphs" stroke="#111" stroke-width="0.3">B220</text>
<text x="304.1" y="248.9" font-size="8.0" font-weight="bold" font-family='"Liberation Sans", Arial, sans-serif' text-anchor="start" fill="#111" textLength="18.5" lengthAdjust="spacingAndGlyphs" stroke="#111" stroke-width="0.3">CD19</text>
<text x="385.6" y="165.4" font-size="6.0" font-weight="bold" font-family='"Liberation Sans", Arial, sans-serif' text-anchor="start" fill="#111" textLength="17.6" lengthAdjust="spacingAndGlyphs" stroke="#111" stroke-width="0.5">B220+</text>
<text x="385.5" y="172.2" font-size="6.0" font-weight="bold" font-family='"Liberation Sans", Arial, sans-serif' text-anchor="start" fill="#111" textLength="17.1" lengthAdjust="spacingAndGlyphs" stroke="#111" stroke-width="0.5">CD19-</text>
<text x="385.7" y="208.1" font-size="6.0" font-weight="bold" font-family='"Liberation Sans", Arial, sans-serif' text-anchor="start" fill="#111" textLength="17.6" lengthAdjust="spacingAndGlyphs" stroke="#111" stroke-width="0.5">B220+</text>
<text x="385.4" y="214.9" font-size="6.0" font-weight="bold" font-family='"Liberation Sans", Arial, sans-serif' text-anchor="start" fill="#111" textLength="18.7" lengthAdjust="spacingAndGlyphs" stroke="#111" stroke-width="0.5">CD19+</text>
<text x="385.6" y="249.6" font-size="6.0" font-weight="bold" font-family='"Liberation Sans", Arial, sans-serif' text-anchor="start" fill="#111" textLength="21.4" lengthAdjust="spacingAndGlyphs" stroke="#111" stroke-width="0.5">B220++</text>
<text x="385.3" y="256.4" font-size="6.0" font-weight="bold" font-family='"Liberation Sans", Arial, sans-serif' text-anchor="start" fill="#111" textLength="19.1" lengthAdjust="spacingAndGlyphs" stroke="#111" stroke-width="0.5">CD19+</text>
<rect x="411.3" y="155.2" width="41.9" height="36.4" stroke="#aaa" stroke-width="0.9" fill="none"/>
<line x1="416.3" y1="155.2" x2="416.3" y2="191.6" stroke="#e0e0e0" stroke-width="0.7"/>
<rect x="423.4" y="155.6" width="29.4" height="22.0" stroke="#999" stroke-width="0.8" fill="none"/>
<text x="438.4" y="162.4" font-size="7.2" font-weight="bold" font-family='"Liberation Sans", Arial, sans-serif' text-anchor="start" fill="#111" textLength="12.8" lengthAdjust="spacingAndGlyphs" stroke="#111" stroke-width="0.3">2.44</text>
<g filter="url(#b3)">
<ellipse cx="432" cy="186" rx="10" ry="6" stroke="none" stroke-width="0" fill="#dadada"/>
<ellipse cx="437" cy="170" rx="4" ry="5" stroke="none" stroke-width="0" fill="#f6f6f6"/>
</g>
<g filter="url(#b1)">
<path d="M423.4,191 C423.4,185.5 424.8,182.2 427,182.2 C429.2,182.2 430.2,185.5 430.2,191" stroke="#111" stroke-width="1.6" fill="none"/>
<path d="M425.5,191 C425.6,187 426.2,185 427.1,185 C428,185 428.3,187 428.4,191" stroke="#444" stroke-width="1.0" fill="none"/>
<path d="M433.6,191 C433.6,184.5 435.2,179.8 437.2,179.8 C439.2,179.8 440,184.5 439.9,191" stroke="#444" stroke-width="1.2" fill="none"/>
<path d="M435.4,191 C435.5,186 436.2,183 437.2,183 C438.2,183 438.5,186 438.4,191" stroke="#888" stroke-width="0.9" fill="none"/>
<path d="M441.8,190 C441.8,184 443.2,179.5 445,179.5 C446.5,180 446.8,185 446.4,190" stroke="#bbb" stroke-width="0.8" fill="none"/>
<line x1="422.4" y1="191.1" x2="440" y2="191.1" stroke="#222" stroke-width="1.0"/>
</g>
<g filter="url(#b1)">
<path d="M419.33,191.20 C419.33,185.84 418.60,184.06 419.14,184.06 C419.67,184.06 421.11,185.84 421.11,191.20" stroke="#ababab" stroke-width="0.6" fill="none"/>
<path d="M422.04,191.20 C422.04,183.65 423.17,181.14 423.80,181.14 C424.42,181.14 424.12,183.65 424.12,191.20" stroke="#7b7b7b" stroke-width="0.6" fill="none"/>
<path d="M436.88,191.20 C436.88,184.99 436.98,182.91 437.54,182.91 C438.09,182.91 438.72,184.99 438.72,191.20" stroke="#969696" stroke-width="0.6" fill="none"/>
<path d="M445.90,191.20 C445.90,188.08 445.96,187.04 446.48,187.04 C447.00,187.04 447.63,188.08 447.63,191.20" stroke="#c2c2c2" stroke-width="0.6" fill="none"/>
<path d="M424.36,191.20 C424.36,186.01 423.96,184.28 424.65,184.28 C425.35,184.28 426.69,186.01 426.69,191.20" stroke="#c3c3c3" stroke-width="0.6" fill="none"/>
<path d="M424.86,191.20 C424.86,184.92 426.47,182.82 427.35,182.82 C428.24,182.82 427.82,184.92 427.82,191.20" stroke="#c3c3c3" stroke-width="0.6" fill="none"/>
<path d="M428.60,191.20 C428.60,183.18 427.59,180.51 428.19,180.51 C428.80,180.51 430.61,183.18 430.61,191.20" stroke="#c7c7c7" stroke-width="0.6" fill="none"/>
<path d="M438.85,191.20 C438.85,184.29 440.47,181.99 441.57,181.99 C442.67,181.99 442.52,184.29 442.52,191.20" stroke="#818181" stroke-width="0.6" fill="none"/>
<path d="M438.71,191.20 C438.71,184.35 437.73,182.07 438.32,182.07 C438.92,182.07 440.69,184.35 440.69,191.20" stroke="#818181" stroke-width="0.6" fill="none"/>
<path d="M428.07,191.20 C428.07,185.82 429.55,184.03 430.25,184.03 C430.95,184.03 430.41,185.82 430.41,191.20" stroke="#a8a8a8" stroke-width="0.6" fill="none"/>
<ellipse cx="438.27" cy="168.85" rx="2.23" ry="2.12" stroke="#d8d8d8" stroke-width="0.6" fill="none"/>
<ellipse cx="444.03" cy="172.72" rx="1.28" ry="2.97" stroke="#d7d7d7" stroke-width="0.6" fill="none"/>
<ellipse cx="437.06" cy="173.53" rx="1.79" ry="2.5" stroke="#dfdfdf" stroke-width="0.6" fill="none"/>
<ellipse cx="439.44" cy="164.22" rx="1.46" ry="2.62" stroke="#c9c9c9" stroke-width="0.6" fill="none"/>
<ellipse cx="438.94" cy="170.3" rx="1.64" ry="3.4" stroke="#dfdfdf" stroke-width="0.6" fill="none"/>
</g>
<rect x="411.3" y="196.5" width="41.5" height="36.1" stroke="#aaa" stroke-width="0.9" fill="none"/>
<line x1="416.3" y1="196.5" x2="416.3" y2="232.6" stroke="#e0e0e0" stroke-width="0.7"/>
<rect x="424.0" y="197.0" width="28.4" height="22.5" stroke="#999" stroke-width="0.8" fill="none"/>
<text x="437.5" y="205.7" font-size="7.2" font-weight="bold" font-family='"Liberation Sans", Arial, sans-serif' text-anchor="start" fill="#111" textLength="12.9" lengthAdjust="spacingAndGlyphs" stroke="#111" stroke-width="0.3">28.7</text>
<g filter="url(#b3)">
<ellipse cx="433" cy="221" rx="7" ry="11" stroke="none" stroke-width="0" fill="#d8d8d8"/>
</g>
<g filter="url(#b1)">
<path d="M418,232 C418.5,226.5 420.8,223.5 422.8,223.6 C424.8,224 425.4,228 425.8,232" stroke="#bbb" stroke-width="0.7" fill="none"/>
<path d="M426.5,232 C426.6,220 427.5,210 431.2,207 C434,205.5 437,207.5 439,208.6 C441,209.3 443,208.7 444,209.8 C442,215.5 440.5,222.5 440.6,232" stroke="#999" stroke-width="0.8" fill="none"/>
<path d="M427.6,232 C427.8,222 428.4,213 430.3,209.3 C431.5,207.5 433.5,207.3 435,208.5" stroke="#111" stroke-width="1.6" fill="none"/>
<path d="M435,208.5 C436.3,211 436.5,216 436.6,222 C436.7,226 436.8,229 437,232" stroke="#555" stroke-width="1.0" fill="none"/>
<path d="M429.8,232 C430,224 430.5,217 431.8,213.5 C432.8,212 433.8,213.5 434,216 L434.2,232" stroke="#333" stroke-width="1.1" fill="none"/>
<path d="M437.8,232 C438,226 438.6,220 440.2,216" stroke="#888" stroke-width="0.8" fill="none"/>
<path d="M432,232 L432.2,220" stroke="#666" stroke-width="0.8" fill="none"/>
<line x1="426.5" y1="231.9" x2="438" y2="231.9" stroke="#222" stroke-width="1.2"/>
</g>
<g filter="url(#b1)">
<path d="M426.43,232.20 C426.43,226.33 427.08,224.38 427.70,224.38 C428.33,224.38 428.51,226.33 428.51,232.20" stroke="#bfbfbf" stroke-width="0.6" fill="none"/>
<path d="M435.70,232.20 C435.70,223.56 436.51,220.68 437.37,220.68 C438.24,220.68 438.59,223.56 438.59,232.20" stroke="#adadad" stroke-width="0.6" fill="none"/>
<path d="M438.44,232.20 C438.44,217.75 438.03,212.93 438.98,212.93 C439.92,212.93 441.59,217.75 441.59,232.20" stroke="#8f8f8f" stroke-width="0.6" fill="none"/>
<path d="M419.50,232.20 C419.50,226.31 420.52,224.35 421.51,224.35 C422.50,224.35 422.80,226.31 422.80,232.20" stroke="#a5a5a5" stroke-width="0.6" fill="none"/>
<path d="M416.78,232.20 C416.78,228.03 418.50,226.64 419.54,226.64 C420.58,226.64 420.25,228.03 420.25,232.20" stroke="#bababa" stroke-width="0.6" fill="none"/>
<path d="M421.48,232.20 C421.48,219.11 422.65,214.75 423.64,214.75 C424.64,214.75 424.79,219.11 424.79,232.20" stroke="#707070" stroke-width="0.6" fill="none"/>
<path d="M418.71,232.20 C418.71,219.67 418.13,215.49 419.27,215.49 C420.40,215.49 422.50,219.67 422.50,232.20" stroke="#c6c6c6" stroke-width="0.6" fill="none"/>
<path d="M424.53,232.20 C424.53,220.70 426.31,216.86 427.22,216.86 C428.14,216.86 427.58,220.70 427.58,232.20" stroke="#767676" stroke-width="0.6" fill="none"/>
<path d="M440.40,232.20 C440.40,226.59 440.57,224.72 441.24,224.72 C441.92,224.72 442.65,226.59 442.65,232.20" stroke="#a6a6a6" stroke-width="0.6" fill="none"/>
<path d="M434.90,232.20 C434.90,223.42 434.35,220.49 435.17,220.49 C435.99,220.49 437.63,223.42 437.63,232.20" stroke="#666666" stroke-width="0.6" fill="none"/>
<path d="M428.75,232.20 C428.75,223.02 429.54,219.96 430.53,219.96 C431.53,219.96 432.07,223.02 432.07,232.20" stroke="#aeaeae" stroke-width="0.6" fill="none"/>
<path d="M441.41,232.20 C441.41,224.35 440.74,221.73 441.68,221.73 C442.62,221.73 444.55,224.35 444.55,232.20" stroke="#717171" stroke-width="0.6" fill="none"/>
<path d="M416.19,232.20 C416.19,217.30 415.75,212.33 416.84,212.33 C417.94,212.33 419.84,217.30 419.84,232.20" stroke="#afafaf" stroke-width="0.6" fill="none"/>
<path d="M434.82,232.20 C434.82,217.11 435.93,212.09 436.47,212.09 C437.02,212.09 436.63,217.11 436.63,232.20" stroke="#a5a5a5" stroke-width="0.6" fill="none"/>
</g>
<rect x="411.3" y="237.3" width="41.7" height="35.3" stroke="#aaa" stroke-width="0.9" fill="none"/>
<line x1="416.3" y1="237.3" x2="416.3" y2="272.6" stroke="#e0e0e0" stroke-width="0.7"/>
<rect x="424.0" y="237.6" width="28.6" height="21.9" stroke="#999" stroke-width="0.8" fill="none"/>
<text x="436.9" y="244.4" font-size="7.2" font-weight="bold" font-family='"Liberation Sans", Arial, sans-serif' text-anchor="start" fill="#111" textLength="13.3" lengthAdjust="spacingAndGlyphs" stroke="#111" stroke-width="0.3">50.2</text>
<g filter="url(#b3)">
<ellipse cx="436" cy="253" rx="6" ry="6" stroke="none" stroke-width="0" fill="#dedede"/>
<ellipse cx="427.5" cy="267" rx="5" ry="6" stroke="none" stroke-width="0" fill="#d0d0d0"/>
</g>
<g filter="url(#b1)">
<path d="M427.0,259.0 C428.8,254 432,250 436.4,248.4" stroke="#444" stroke-width="1.2" fill="none"/>
<path d="M429.4,259.2 C431.2,255 434,252 437.2,250.6" stroke="#777" stroke-width="1.0" fill="none"/>
<ellipse cx="440.0" cy="252.4" rx="2.4" ry="4.4" stroke="#111" stroke-width="1.6" fill="none" transform="rotate(6 440.0 252.4)"/>
<ellipse cx="440.1" cy="252.5" rx="0.8" ry="2.1" stroke="#666" stroke-width="0.7" fill="none" transform="rotate(6 440.1 252.5)"/>
<ellipse cx="439.8" cy="252.6" rx="4.2" ry="6.0" stroke="#aaa" stroke-width="0.7" fill="none" transform="rotate(6 439.8 252.6)"/>
<line x1="425.2" y1="272" x2="425.6" y2="263.5" stroke="#111" stroke-width="1.6"/>
<line x1="429.3" y1="272" x2="429.5" y2="262.6" stroke="#111" stroke-width="1.6"/>
<path d="M425.6,263.5 C426.5,261.8 428.5,261.6 429.5,262.6" stroke="#555" stroke-width="1.0" fill="none"/>
<line x1="427.3" y1="272" x2="427.5" y2="265" stroke="#777" stroke-width="0.8"/>
<path d="M422.5,272 C422.8,267 423.3,264 424.3,262.8" stroke="#888" stroke-width="0.8" fill="none"/>
<path d="M431.6,272 C431.8,267 433,263.5 435.5,262.5" stroke="#aaa" stroke-width="0.8" fill="none"/>
<line x1="423.6" y1="272.1" x2="432" y2="272.1" stroke="#222" stroke-width="1.2"/>
</g>
<g filter="url(#b1)">
<path d="M424.33,272.40 C424.33,268.55 424.08,267.27 424.90,267.27 C425.73,267.27 427.09,268.55 427.09,272.40" stroke="#b7b7b7" stroke-width="0.6" fill="none"/>
<path d="M432.36,272.40 C432.36,267.31 433.82,265.62 434.96,265.62 C436.11,265.62 436.18,267.31 436.18,272.40" stroke="#c5c5c5" stroke-width="0.6" fill="none"/>
<path d="M432.25,272.40 C432.25,266.32 434.36,264.30 435.28,264.30 C436.20,264.30 435.32,266.32 435.32,272.40" stroke="#8e8e8e" stroke-width="0.6" fill="none"/>
<path d="M428.50,272.40 C428.50,264.92 428.57,262.43 429.76,262.43 C430.94,262.43 432.46,264.92 432.46,272.40" stroke="#707070" stroke-width="0.6" fill="none"/>
<path d="M430.42,272.40 C430.42,268.47 430.73,267.16 431.79,267.16 C432.85,267.16 433.96,268.47 433.96,272.40" stroke="#a5a5a5" stroke-width="0.6" fill="none"/>
<path d="M438.43,272.40 C438.43,265.40 439.97,263.07 441.12,263.07 C442.26,263.07 442.24,265.40 442.24,272.40" stroke="#7f7f7f" stroke-width="0.6" fill="none"/>
<path d="M429.39,272.40 C429.39,266.93 431.57,265.11 432.65,265.11 C433.73,265.11 432.99,266.93 432.99,272.40" stroke="#bfbfbf" stroke-width="0.6" fill="none"/>
<path d="M439.43,272.40 C439.43,265.10 439.17,262.67 440.24,262.67 C441.31,262.67 442.99,265.10 442.99,272.40" stroke="#a3a3a3" stroke-width="0.6" fill="none"/>
<path d="M443.64,272.40 C443.64,269.31 443.92,268.29 444.72,268.29 C445.51,268.29 446.30,269.31 446.30,272.40" stroke="#959595" stroke-width="0.6" fill="none"/>
<path d="M423.22,272.40 C423.22,268.81 424.15,267.62 425.32,267.62 C426.49,267.62 427.12,268.81 427.12,272.40" stroke="#bfbfbf" stroke-width="0.6" fill="none"/>
<ellipse cx="439.87" cy="256.79" rx="1.68" ry="3.31" stroke="#cecece" stroke-width="0.6" fill="none"/>
<ellipse cx="438.33" cy="255.07" rx="2.09" ry="3.66" stroke="#989898" stroke-width="0.6" fill="none"/>
<ellipse cx="432.71" cy="257.97" rx="2.12" ry="2.23" stroke="#c2c2c2" stroke-width="0.6" fill="none"/>
<ellipse cx="432.71" cy="250.96" rx="1.66" ry="2.15" stroke="#9e9e9e" stroke-width="0.6" fill="none"/>
<ellipse cx="438.12" cy="254.12" rx="1.48" ry="3.18" stroke="#d0d0d0" stroke-width="0.6" fill="none"/>
<ellipse cx="430.88" cy="250.06" rx="1.14" ry="3.23" stroke="#aeaeae" stroke-width="0.6" fill="none"/>
</g>
<line x1="405.8" y1="278.8" x2="405.8" y2="266.0" stroke="#111" stroke-width="0.9"/>
<polygon points="403.5,267.0 405.8,262.0 408.1,267.0" fill="#111"/>
<line x1="405.8" y1="278.8" x2="419.2" y2="278.8" stroke="#111" stroke-width="0.9"/>
<polygon points="417.7,276.5 423.2,278.8 417.7,281.1" fill="#111"/>
<text transform="translate(403.9,276.7) rotate(-90)" font-size="7.8" font-weight="bold" font-family='"Liberation Sans", Arial, sans-serif' fill="#111" textLength="11.5" lengthAdjust="spacingAndGlyphs" stroke="#111" stroke-width="0.3">IgM</text>
<text x="408.2" y="286.9" font-size="8.0" font-weight="bold" font-family='"Liberation Sans", Arial, sans-serif' text-anchor="start" fill="#111" textLength="18.7" lengthAdjust="spacingAndGlyphs" stroke="#111" stroke-width="0.3">CD19</text>
<rect x="477.5" y="155.2" width="40.1" height="35.1" stroke="#777" stroke-width="0.9" fill="none"/>
<line x1="492.6" y1="155.2" x2="492.6" y2="190.3" stroke="#888" stroke-width="0.8"/>
<line x1="492.6" y1="180.2" x2="517.6" y2="180.2" stroke="#aaa" stroke-width="0.8"/>
<text x="478.4" y="161.7" font-size="6.4" font-weight="normal" font-family='"Liberation Serif", serif' text-anchor="start" fill="#111" textLength="11.2" lengthAdjust="spacingAndGlyphs" stroke="#111" stroke-width="0.25">76.5</text>
<text x="500.6" y="161.7" font-size="6.4" font-weight="normal" font-family='"Liberation Serif", serif' text-anchor="start" fill="#111" textLength="10.6" lengthAdjust="spacingAndGlyphs" stroke="#111" stroke-width="0.25">20.8</text>
<g filter="url(#b3)">
<ellipse cx="485.5" cy="167" rx="3.8" ry="5" stroke="none" stroke-width="0" fill="#c8c8c8"/>
<ellipse cx="488" cy="175.5" rx="7" ry="5" stroke="none" stroke-width="0" fill="#cfcfcf" transform="rotate(-25 488 175.5)"/>
<ellipse cx="495.5" cy="169.5" rx="5" ry="2.5" stroke="none" stroke-width="0" fill="#e0e0e0" transform="rotate(-55 495.5 169.5)"/>
</g>
<g filter="url(#b1)">
<path d="M483.8,163.6 C483.8,168.5 484.5,170.6 485.6,170.6 C486.7,170.6 487.5,168.5 487.5,163.6" stroke="#333" stroke-width="1.3" fill="none"/>
<path d="M485,164.5 C485,167.5 485.3,168.8 485.7,168.8 C486.1,168.8 486.4,167.5 486.4,164.5" stroke="#888" stroke-width="0.7" fill="none"/>
<ellipse cx="495.3" cy="169.3" rx="5.0" ry="1.7" stroke="#222" stroke-width="1.4" fill="none" transform="rotate(-55 495.3 169.3)"/>
<ellipse cx="495.3" cy="169.3" rx="3.0" ry="0.7" stroke="#777" stroke-width="0.7" fill="none" transform="rotate(-55 495.3 169.3)"/>
<ellipse cx="487.2" cy="176.0" rx="5.4" ry="2.8" stroke="#111" stroke-width="1.8" fill="none" transform="rotate(-24 487.2 176.0)"/>
<ellipse cx="487.4" cy="175.8" rx="2.8" ry="1.1" stroke="#666" stroke-width="0.8" fill="none" transform="rotate(-24 487.4 175.8)"/>
<ellipse cx="485.5" cy="178.5" rx="2.5" ry="1.0" stroke="none" stroke-width="0" fill="#999"/>
</g>
<line x1="472.1" y1="195.4" x2="472.1" y2="182.9" stroke="#111" stroke-width="0.9"/>
<polygon points="469.8,183.9 472.1,178.9 474.40000000000003,183.9" fill="#111"/>
<line x1="472.1" y1="195.4" x2="486.6" y2="195.4" stroke="#111" stroke-width="0.9"/>
<polygon points="485.1,193.1 490.6,195.4 485.1,197.70000000000002" fill="#111"/>
<text transform="translate(469.1,197.7) rotate(-90)" font-size="7.6" font-weight="bold" font-family='"Liberation Sans", Arial, sans-serif' fill="#111" textLength="15.7" lengthAdjust="spacingAndGlyphs" stroke="#111" stroke-width="0.3">B220</text>
<text x="474.4" y="204.0" font-size="8.0" font-weight="bold" font-family='"Liberation Sans", Arial, sans-serif' text-anchor="start" fill="#111" textLength="19.0" lengthAdjust="spacingAndGlyphs" stroke="#111" stroke-width="0.3">CD19</text>
</g>
</svg>
</body></html>
